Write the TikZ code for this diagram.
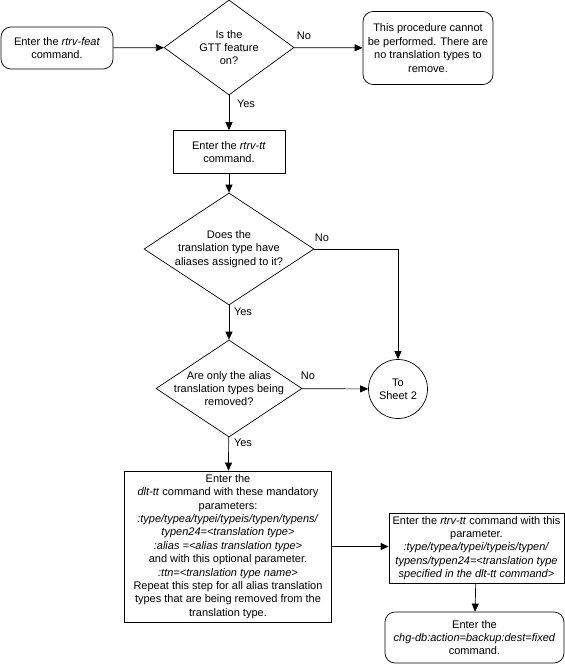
\documentclass[tikz,border=0pt]{standalone}
\usepackage{fontspec}
\setmainfont{Liberation Sans}
\usetikzlibrary{shapes.geometric,arrows.meta}

\begin{document}
\begin{tikzpicture}[x=1pt, y=-1pt, line width=0.7pt,
  font=\fontsize{11}{13.4}\selectfont,
  flow/.style={-{Triangle[length=8pt,width=7pt]}},
  cmdbox/.style={draw, align=center, inner sep=0pt},
  endbox/.style={draw, rounded corners=10pt, align=center, inner sep=0pt},
  decision/.style={draw, diamond, inner sep=0pt},
  answer/.style={inner sep=1pt}]
  \useasboundingbox (0,0) rectangle (565,665);

  % --- top row ---
  \node[endbox, minimum width=112pt, minimum height=42pt] (feat) at (57,48)
    {Enter the \textit{rtrv-feat}\\command.};
  \node[decision, minimum width=130pt, minimum height=95pt] (gtt) at (229,47.5) {};
  \node[align=center] (gtttxt) at (gtt) {Is the\\GTT feature\\on?};
  \node[endbox, minimum width=130pt, minimum height=73pt] (stop) at (428,48)
    {This procedure cannot\\be performed. There are\\no translation types to\\remove.};

  % --- middle column ---
  \node[cmdbox, minimum width=112pt, minimum height=43pt] (tt) at (229,152)
    {Enter the \textit{rtrv-tt}\\command.};
  \node[decision, minimum width=170pt, minimum height=112pt] (alias) at (229,249) {};
  \node[align=center] (aliastxt) at (alias) {Does the\\translation type have\\aliases assigned to it?};
  \node[decision, minimum width=146pt, minimum height=97pt] (only) at (229,388.5) {};
  \node[align=center] (onlytxt) at (only) {Are only the alias\\translation types being\\removed?};
  \node[draw, circle, minimum size=59pt, inner sep=0pt, align=center] (sheet) at (398,389)
    {To\\Sheet 2};

  % --- bottom row ---
  \node[cmdbox, minimum width=207pt, minimum height=151pt] (dlt) at (228,546.5)
    {Enter the\\\textit{dlt-tt} command with these mandatory\\parameters:\\
     \textit{:type/typea/typei/typeis/typen/typens/}\\
     \textit{typen24=<translation type>}\\
     \textit{:alias =<alias translation type>}\\
     and with this optional parameter.\\
     \textit{:ttn=<translation type name>}\\
     Repeat this step for all alias translation\\
     types that are being removed from the\\translation type.};
  \node[cmdbox, minimum width=175pt, minimum height=70pt] (check) at (476.5,548)
    {Enter the \textit{rtrv-tt} command with this\\parameter.\\
     \textit{:type/typea/typei/typeis/typen/}\\
     \textit{typens/typen24=<translation type}\\
     \textit{specified in the dlt-tt command>}};
  \node[endbox, minimum width=179pt, minimum height=51pt] (backup) at (474.5,637.5)
    {Enter the\\\textit{chg-db:action=backup:dest=fixed}\\command.};

  % --- connectors ---
  \draw[flow] (feat) -- (gtt);
  \draw[flow] (gtt) -- (stop);
  \draw[flow] (gtt) -- (tt);
  \draw[flow] (tt) -- (alias);
  \draw[flow] (alias) -- (only);
  \draw[flow] (alias.east) -| (sheet.north);
  \draw[flow] (only) -- (sheet);
  \draw[flow] (only) -- (dlt);
  \draw[flow] (dlt.east) -- (dlt.east -| check.west);
  \draw[flow] (check) -- (backup);

  % --- answers ---
  \node[answer] (gttno)    at (304,36)  {No};
  \node[answer] (gttyes)   at (246,104) {Yes};
  \node[answer] (aliasno)  at (322,238) {No};
  \node[answer] (aliasyes) at (243,312) {Yes};
  \node[answer] (onlyno)   at (308,376) {No};
  \node[answer] (onlyyes)  at (243,443) {Yes};
\end{tikzpicture}
\end{document}
